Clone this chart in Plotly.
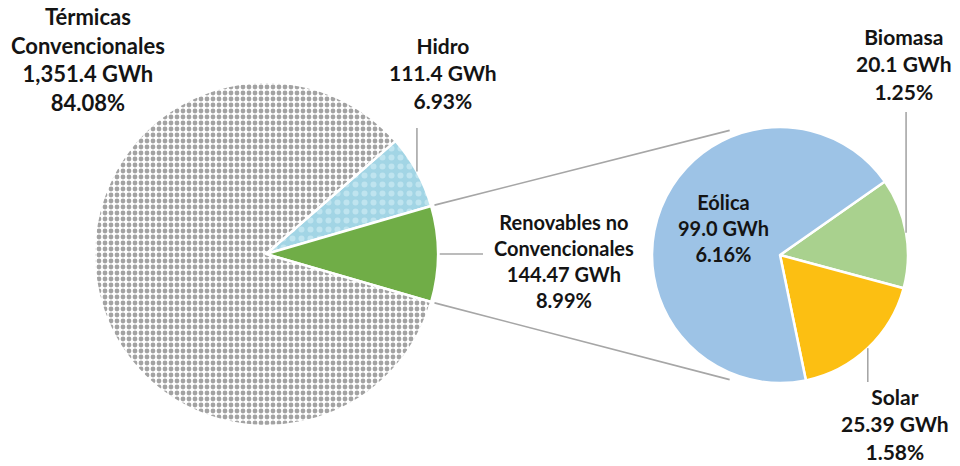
import math
import plotly.graph_objects as go

# ---- data -------------------------------------------------------------
main_labels = ["Hidro", "Renovables no<br>Convencionales", "Térmicas<br>Convencionales"]
main_values = [111.4, 144.47, 1351.4]
main_decimals = [1, 2, 1]

sub_labels = ["Biomasa", "Solar", "Eólica"]
sub_values = [20.1, 25.39, 99.0]
sub_decimals = [1, 2, 1]

total = sum(main_values)

# ---- styling ----------------------------------------------------------
W, H = 960, 466
BIG = dict(cx=266, cy=254, r=172)
SMALL = dict(cx=780, cy=255, r=128)
SUB_ROTATION = 55

main_colors = ["#a3d6e6", "#70ad47", "#ffffff"]
sub_colors = ["#a9d18e", "#fcbf12", "#9dc3e6"]
LINE_GREY = "#a6a6a6"
FAMILY = "Lato, 'Open Sans', sans-serif"


def font(size):
    return dict(family=FAMILY, size=size, color="#141414", weight="bold")


def px_x(x):
    return x / W


def px_y(y):
    return 1 - y / H


def domain(c):
    return dict(x=[px_x(c["cx"] - c["r"]), px_x(c["cx"] + c["r"])],
                y=[px_y(c["cy"] + c["r"]), px_y(c["cy"] - c["r"])])


def rim(c, bearing, scale=1.0):
    a = math.radians(bearing)
    return (c["cx"] + scale * c["r"] * math.sin(a), c["cy"] - scale * c["r"] * math.cos(a))


def fmt(v, d):
    return f"{v:,.{d}f} GWh"


# the renewables slice is centred on 3 o'clock
main_rotation = 90 - 360 * (main_values[0] + main_values[1] / 2) / total


# slice boundaries (bearings, clockwise from 12 o'clock)
def bounds(values, rot):
    s = sum(values)
    out, a = [], rot
    for v in values:
        b = a + 360 * v / s
        out.append((a, b))
        a = b
    return out


main_b = bounds(main_values, main_rotation)
sub_b = bounds(sub_values, SUB_ROTATION)

fig = go.Figure()

fig.add_trace(go.Pie(
    values=main_values, labels=["Hidro", "Renovables no Convencionales", "Térmicas Convencionales"],
    sort=False, direction="clockwise", rotation=main_rotation,
    domain=domain(BIG), textinfo="none", hoverinfo="label+value+percent",
    marker=dict(
        colors=main_colors,
        line=dict(color="white", width=2.5),
        pattern=dict(shape=[".", "", "."],
                     fgcolor=["#bfe4ef", "#70ad47", "#a3a3a3"],
                     bgcolor=["#a2d5e5", "#70ad47", "#ffffff"],
                     size=[9, 8, 6], solidity=[0.35, 0.5, 0.5]),
    ),
    showlegend=False,
))

fig.add_trace(go.Pie(
    values=sub_values, labels=sub_labels,
    sort=False, direction="clockwise", rotation=SUB_ROTATION,
    domain=domain(SMALL), textinfo="none", hoverinfo="label+value+percent",
    marker=dict(colors=sub_colors, line=dict(color="white", width=2.5)),
    showlegend=False,
))

shapes = []


def seg(p, q):
    shapes.append(dict(type="line", xref="paper", yref="paper",
                       x0=px_x(p[0]), y0=px_y(p[1]), x1=px_x(q[0]), y1=px_y(q[1]),
                       line=dict(color=LINE_GREY, width=1.6)))


# connectors from the renewables slice to the breakdown pie
g0, g1 = main_b[1]
seg(rim(BIG, g0, 1.02), rim(SMALL, -22, 1.05))
seg(rim(BIG, g1, 1.02), rim(SMALL, 202, 1.05))

# leader lines
hid_mid = sum(main_b[0]) / 2
p = rim(BIG, hid_mid, 1.0)
seg(p, (p[0], 128))
ren_mid = sum(main_b[1]) / 2
p = rim(BIG, ren_mid, 1.01)
seg(p, (483, p[1]))
bio_mid = sum(sub_b[0]) / 2
p = rim(SMALL, bio_mid, 1.0)
seg(p, (p[0], 112))
sol_mid = sum(sub_b[1]) / 2
p = rim(SMALL, sol_mid, 1.0)
seg(p, (p[0], 382))

fig.update_layout(shapes=shapes)


# ---- labels -----------------------------------------------------------
def pct(v):
    return f"{100 * v / total:.2f}%"


label_pos = {
    "Térmicas<br>Convencionales": (88, 60, 22),
    "Hidro": (443, 73, 21),
    "Renovables no<br>Convencionales": (564, 261, 20),
}
for lab, v, d in zip(main_labels, main_values, main_decimals):
    x, y, s = label_pos[lab]
    fig.add_annotation(x=px_x(x), y=px_y(y), xref="paper", yref="paper",
                       text=f"{lab}<br>{fmt(v, d)}<br>{pct(v)}", showarrow=False,
                       font=font(s), align="center", xanchor="center", yanchor="middle")

sub_pos = {"Biomasa": (904, 64, 21), "Solar": (895, 424, 21), "Eólica": (723, 228, 20)}
for lab, v, d in zip(sub_labels, sub_values, sub_decimals):
    x, y, s = sub_pos[lab]
    fig.add_annotation(x=px_x(x), y=px_y(y), xref="paper", yref="paper",
                       text=f"{lab}<br>{fmt(v, d)}<br>{pct(v)}", showarrow=False,
                       font=font(s), align="center", xanchor="center", yanchor="middle")

fig.update_layout(width=W, height=H, margin=dict(l=0, r=0, t=0, b=0),
                  paper_bgcolor="white", plot_bgcolor="white")

fig.write_html("out.html")
